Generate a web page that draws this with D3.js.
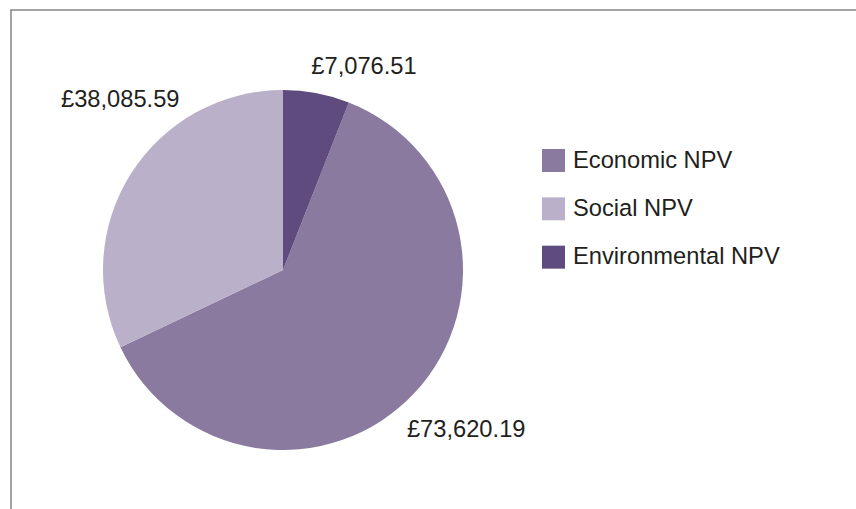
<!DOCTYPE html>
<html>
<head>
<meta charset="utf-8">
<script src="https://cdn.jsdelivr.net/npm/d3@7"></script>
<style>
  html, body { margin: 0; padding: 0; background: #fff; }
  svg { display: block; }
  text { font-family: "Liberation Sans", Arial, Helvetica, sans-serif; fill: #231f20; }
</style>
</head>
<body>
<svg id="chart" width="856" height="509"></svg>
<script>
// NPV components (£)
const categories = ["Economic NPV", "Social NPV", "Environmental NPV"];
const values = [73620.19, 38085.59, 7076.51];
const valueLabels = ["£73,620.19", "£38,085.59", "£7,076.51"];
const colors = ["#8a7a9f", "#bab0c9", "#5f4b7d"];

// label nudges relative to each slice's outer centroid
const labelNudge = [[26, 20], [19, -48], [41, 15]];

const width = 856, height = 509;
const svg = d3.select("#chart");

// frame
svg.append("rect")
  .attr("x", 11).attr("y", 10)
  .attr("width", width + 20).attr("height", height + 20)
  .attr("fill", "none")
  .attr("stroke", "#8c8c8c")
  .attr("stroke-width", 1.6);

const cx = 283, cy = 270, r = 180;
const total = d3.sum(values);
// last series wraps around 12 o'clock so the first series starts after it
const start = 2 * Math.PI * values[values.length - 1] / total;

const pie = d3.pie().sort(null).value(d => d)
  .startAngle(start).endAngle(start + 2 * Math.PI);
const arcs = pie(values);

const arc = d3.arc().innerRadius(0).outerRadius(r);
const labelArc = d3.arc().innerRadius(215).outerRadius(215);

const g = svg.append("g").attr("transform", `translate(${cx},${cy})`);

g.selectAll("path.slice")
  .data(arcs)
  .join("path")
  .attr("class", "slice")
  .attr("d", arc)
  .attr("fill", (d, i) => colors[i]);

g.selectAll("text.vlabel")
  .data(arcs)
  .join("text")
  .attr("class", "vlabel")
  .attr("x", (d, i) => labelArc.centroid(d)[0] + labelNudge[i][0])
  .attr("y", (d, i) => labelArc.centroid(d)[1] + labelNudge[i][1])
  .attr("text-anchor", "middle")
  .attr("font-size", 23.7)
  .text((d, i) => valueLabels[i]);

// legend
const legend = svg.append("g").attr("transform", "translate(542,149)");
const row = d3.scaleBand().domain(categories).range([0, 145]).paddingInner(0);
const items = legend.selectAll("g.item")
  .data(categories)
  .join("g")
  .attr("class", "item")
  .attr("transform", d => `translate(0,${row(d)})`);

items.append("rect")
  .attr("width", 23).attr("height", 23)
  .attr("fill", (d, i) => colors[i]);

items.append("text")
  .attr("x", 31).attr("y", 18.5)
  .attr("font-size", 23.7)
  .text(d => d);
</script>
</body>
</html>
